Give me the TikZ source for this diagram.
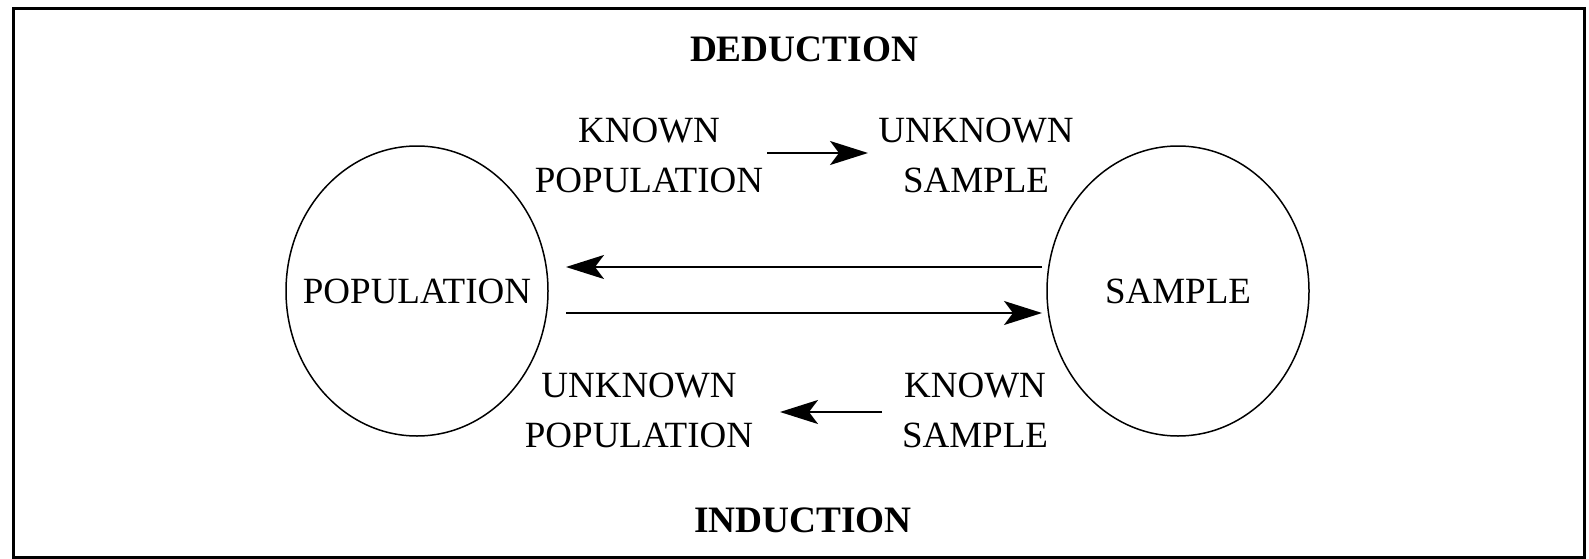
\documentclass[tikz,border=0pt]{standalone}
\usepackage{fontspec}
\setmainfont{Liberation Serif}
\usetikzlibrary{arrows.meta,shapes.geometric}
\begin{document}
\begin{tikzpicture}[x=1pt,y=-1pt,
  lbl/.style={font=\fontsize{37}{50}\selectfont, align=center, inner sep=0pt},
  ttl/.style={font=\fontsize{37.3}{44}\selectfont\bfseries, inner sep=0pt},
  oval/.style={draw, line width=1.5pt, ellipse, minimum width=262pt, minimum height=290pt, inner sep=0pt},
  arr/.style={line width=2pt, -{Stealth[length=38pt, width=24pt, inset=9pt]}}
]
\useasboundingbox (0,0) rectangle (1589,559);
\draw[line width=3pt] (13,9) rectangle (1584,557);
\node[ttl] (ded) at (804,49) {DEDUCTION};
\node[ttl] (ind) at (803,520) {INDUCTION};
\node[oval] (pop) at (417,291) {};
\node[oval] (smp) at (1178,291) {};
\node[lbl] (poptxt) at (417,291) {POPULATION};
\node[lbl] (smptxt) at (1178,291) {SAMPLE};
\node[lbl] (kp) at (649,155) {KNOWN\\POPULATION};
\node[lbl] (us) at (976,155) {UNKNOWN\\SAMPLE};
\node[lbl] (up) at (639,410) {UNKNOWN\\POPULATION};
\node[lbl] (ks) at (975,410) {KNOWN\\SAMPLE};
\coordinate (a1s) at (767,153); \coordinate (a1e) at (868,153);
\coordinate (a2s) at (1042,267); \coordinate (a2e) at (566,267);
\coordinate (a3s) at (566,313); \coordinate (a3e) at (1042,313);
\coordinate (a4s) at (882,412); \coordinate (a4e) at (780,412);
\draw[arr] (a1s) -- (a1e);
\draw[arr] (a2s) -- (a2e);
\draw[arr] (a3s) -- (a3e);
\draw[arr] (a4s) -- (a4e);
\end{tikzpicture}
\end{document}
